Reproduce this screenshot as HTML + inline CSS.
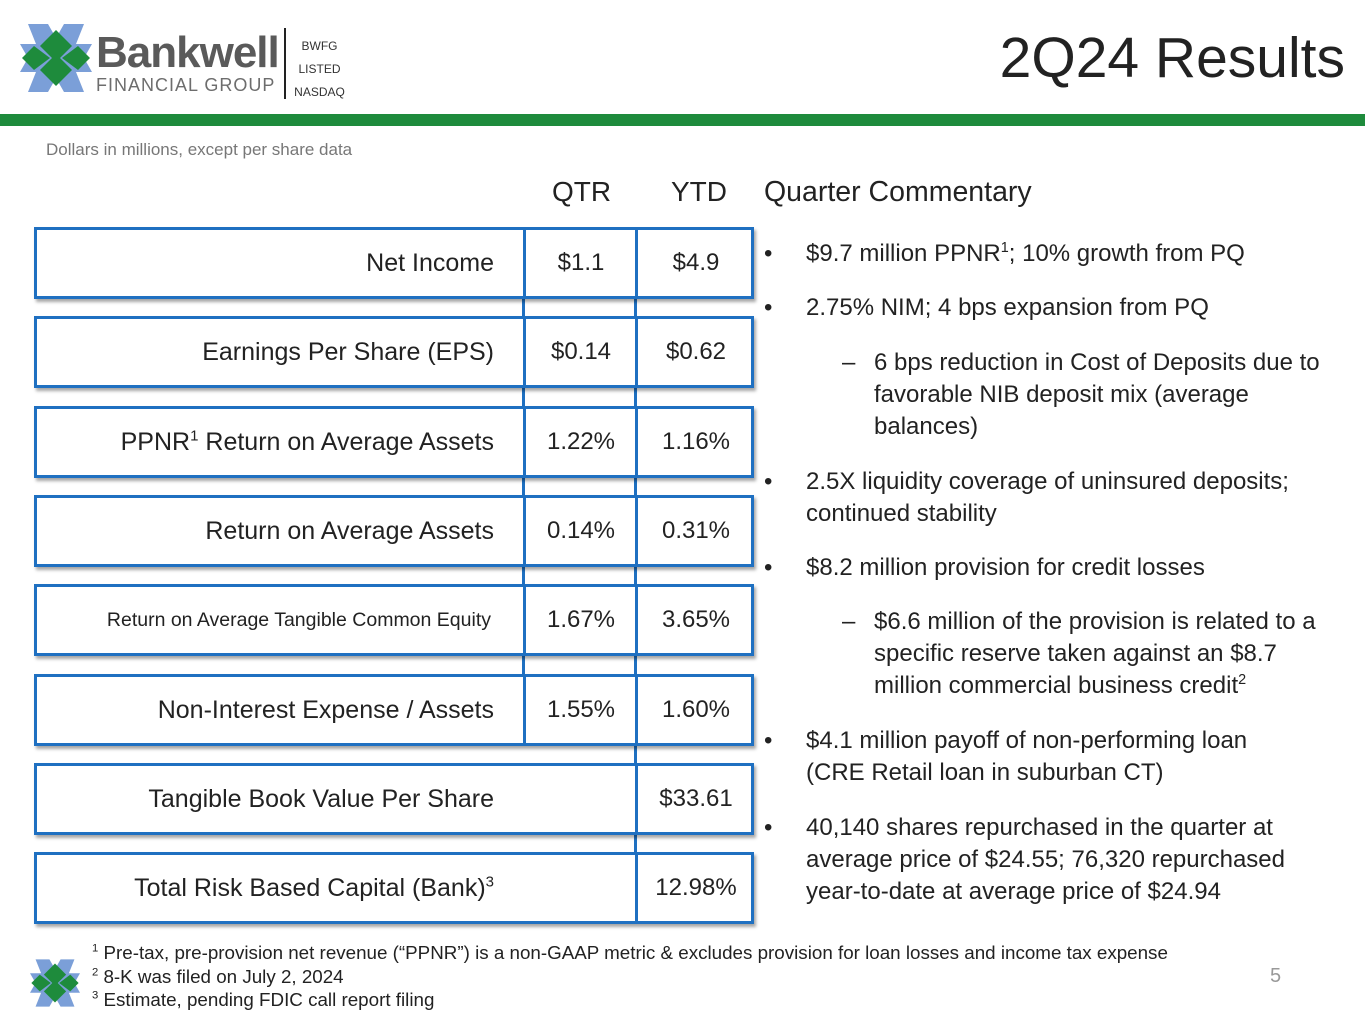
<!DOCTYPE html>
<html><head><meta charset="utf-8">
<style>
body{margin:0;width:1365px;height:1024px;position:relative;background:#fff;font-family:"Liberation Sans",sans-serif;color:#222;overflow:hidden}
.a{position:absolute}
.row{position:absolute;left:34px;width:714px;height:66px;border:3px solid #1f70c1;box-shadow:2px 3px 3px rgba(0,0,0,.35);background:#fff}
.lab{position:absolute;right:257px;top:0;line-height:66px;font-size:25px;white-space:nowrap}
.q{position:absolute;left:489px;width:110px;text-align:center;line-height:66px;font-size:24px}
.y{position:absolute;left:601px;width:116px;text-align:center;line-height:66px;font-size:24px}
.vl{position:absolute;width:3px;background:#1f70c1}
.b{position:absolute;left:764px;font-size:24px;line-height:32px}
.t{position:absolute;left:42px;width:505px}
.s{position:absolute;left:80px;width:455px}
sup{font-size:60%;line-height:0}
</style></head><body>
<div class="a" style="left:20px;top:24px;width:72px;height:68px">
<svg width="72" height="68" viewBox="0 0 72 68">
<path d="M8 0h20l8 14 8-14h20l-8 20 16 0-8 14 8 14H56l8 20H44l-8-14-8 14H8l8-20H0l8-14L0 20h16z" fill="#7b9fd8"/>
<polygon points="36,6 52,22 36,38 20,22" fill="#1e8b3c"/>
<polygon points="36,30 52,46 36,62 20,46" fill="#1e8b3c"/>
<polygon points="14,22 30,34 14,46 2,34" fill="#1e8b3c"/>
<polygon points="58,22 70,34 58,46 42,34" fill="#1e8b3c"/>
</svg></div>
<div class="a" style="left:96px;top:28px;font-size:44px;font-weight:bold;color:#5a5a5a;letter-spacing:-1px">Bankwell</div>
<div class="a" style="left:96px;top:75px;font-size:18px;color:#6d6d6d;letter-spacing:1px">FINANCIAL GROUP</div>
<div class="a" style="left:284px;top:28px;width:2px;height:71px;background:#222"></div>
<div class="a" style="left:292px;top:35px;width:55px;text-align:center;font-size:12px;line-height:23px;color:#333">BWFG<br>LISTED<br>NASDAQ</div>
<div class="a" style="right:20px;top:25px;font-size:57px;color:#222">2Q24 Results</div>
<div class="a" style="left:0;top:114px;width:1365px;height:12px;background:#1e8b3c"></div>
<div class="a" style="left:46px;top:140px;font-size:17px;color:#777">Dollars in millions, except per share data</div>
<div class="a" style="left:552px;top:176px;font-size:28px">QTR</div>
<div class="a" style="left:671px;top:176px;font-size:28px">YTD</div>
<div class="a" style="left:764px;top:176px;font-size:28.5px">Quarter Commentary</div>
<div class="vl" style="left:522px;top:228px;height:513px"></div>
<div class="vl" style="left:634px;top:228px;height:692px"></div>
<div id="rows"></div>
<div class="b" style="top:238px;width:580px">
<div class="t" style="top:0"><span style="left:-42px;position:absolute">•</span>$9.7 million PPNR<sup>1</sup>; 10% growth from PQ</div>
<div class="t" style="top:54px"><span style="left:-42px;position:absolute">•</span>2.75% NIM; 4 bps expansion from PQ</div>
<div class="s" style="top:109px;left:110px"><span style="position:absolute;left:-32px">–</span>6 bps reduction in Cost of Deposits due to favorable NIB deposit mix (average balances)</div>
<div class="t" style="top:228px"><span style="left:-42px;position:absolute">•</span>2.5X liquidity coverage of uninsured deposits; continued stability</div>
<div class="t" style="top:314px"><span style="left:-42px;position:absolute">•</span>$8.2 million provision for credit losses</div>
<div class="s" style="top:368px;left:110px"><span style="position:absolute;left:-32px">–</span>$6.6 million of the provision is related to a specific reserve taken against an $8.7 million commercial business credit<sup>2</sup></div>
<div class="t" style="top:487px"><span style="left:-42px;position:absolute">•</span>$4.1 million payoff of non-performing loan (CRE Retail loan in suburban CT)</div>
<div class="t" style="top:574px"><span style="left:-42px;position:absolute">•</span>40,140 shares repurchased in the quarter at average price of $24.55; 76,320 repurchased year-to-date at average price of $24.94</div>
</div>
<div class="a" style="left:30px;top:958px">
<svg width="50" height="50" viewBox="0 0 72 68"><path d="M8 0h20l8 14 8-14h20l-8 20 16 0-8 14 8 14H56l8 20H44l-8-14-8 14H8l8-20H0l8-14L0 20h16z" fill="#7b9fd8"/><polygon points="36,6 52,22 36,38 20,22" fill="#1e8b3c"/><polygon points="36,30 52,46 36,62 20,46" fill="#1e8b3c"/><polygon points="14,22 30,34 14,46 2,34" fill="#1e8b3c"/><polygon points="58,22 70,34 58,46 42,34" fill="#1e8b3c"/></svg></div>
<div class="a" style="left:92px;top:941px;font-size:18.8px;line-height:23.5px;color:#222;white-space:nowrap">
<div><sup>1</sup> Pre-tax, pre-provision net revenue (“PPNR”) is a non-GAAP metric &amp; excludes provision for loan losses and income tax expense</div>
<div><sup>2</sup> 8-K was filed on July 2, 2024</div>
<div><sup>3</sup> Estimate, pending FDIC call report filing</div></div>
<div class="a" style="left:1270px;top:965px;font-size:20px;color:#999">5</div>
<script>
const labels=["Net Income","Earnings Per Share (EPS)","PPNR<sup>1</sup> Return on Average Assets","Return on Average Assets","Return on Average Tangible Common Equity","Non-Interest Expense / Assets","Tangible Book Value Per Share","Total Risk Based Capital (Bank)<sup>3</sup>"];
const qtr=["$1.1","$0.14","1.22%","0.14%","1.67%","1.55%","",""];
const ytd=["$4.9","$0.62","1.16%","0.31%","3.65%","1.60%","$33.61","12.98%"];
const c=document.getElementById('rows');
labels.forEach((l,i)=>{
const r=document.createElement('div');r.className='row';r.style.top=(227+i*89.3)+'px';


const small=i===4;
r.innerHTML='<div class="lab" style="'+(small?'font-size:19.5px;right:260px':'')+'">'+l+'</div>'+
(i<6?'<div class="vl" style="left:486px;top:0;height:66px"></div>':'')+
'<div class="vl" style="left:598px;top:0;height:66px"></div>'+
'<div class="q">'+qtr[i]+'</div><div class="y">'+ytd[i]+'</div>';
c.appendChild(r);
});
</script>
</body></html>
